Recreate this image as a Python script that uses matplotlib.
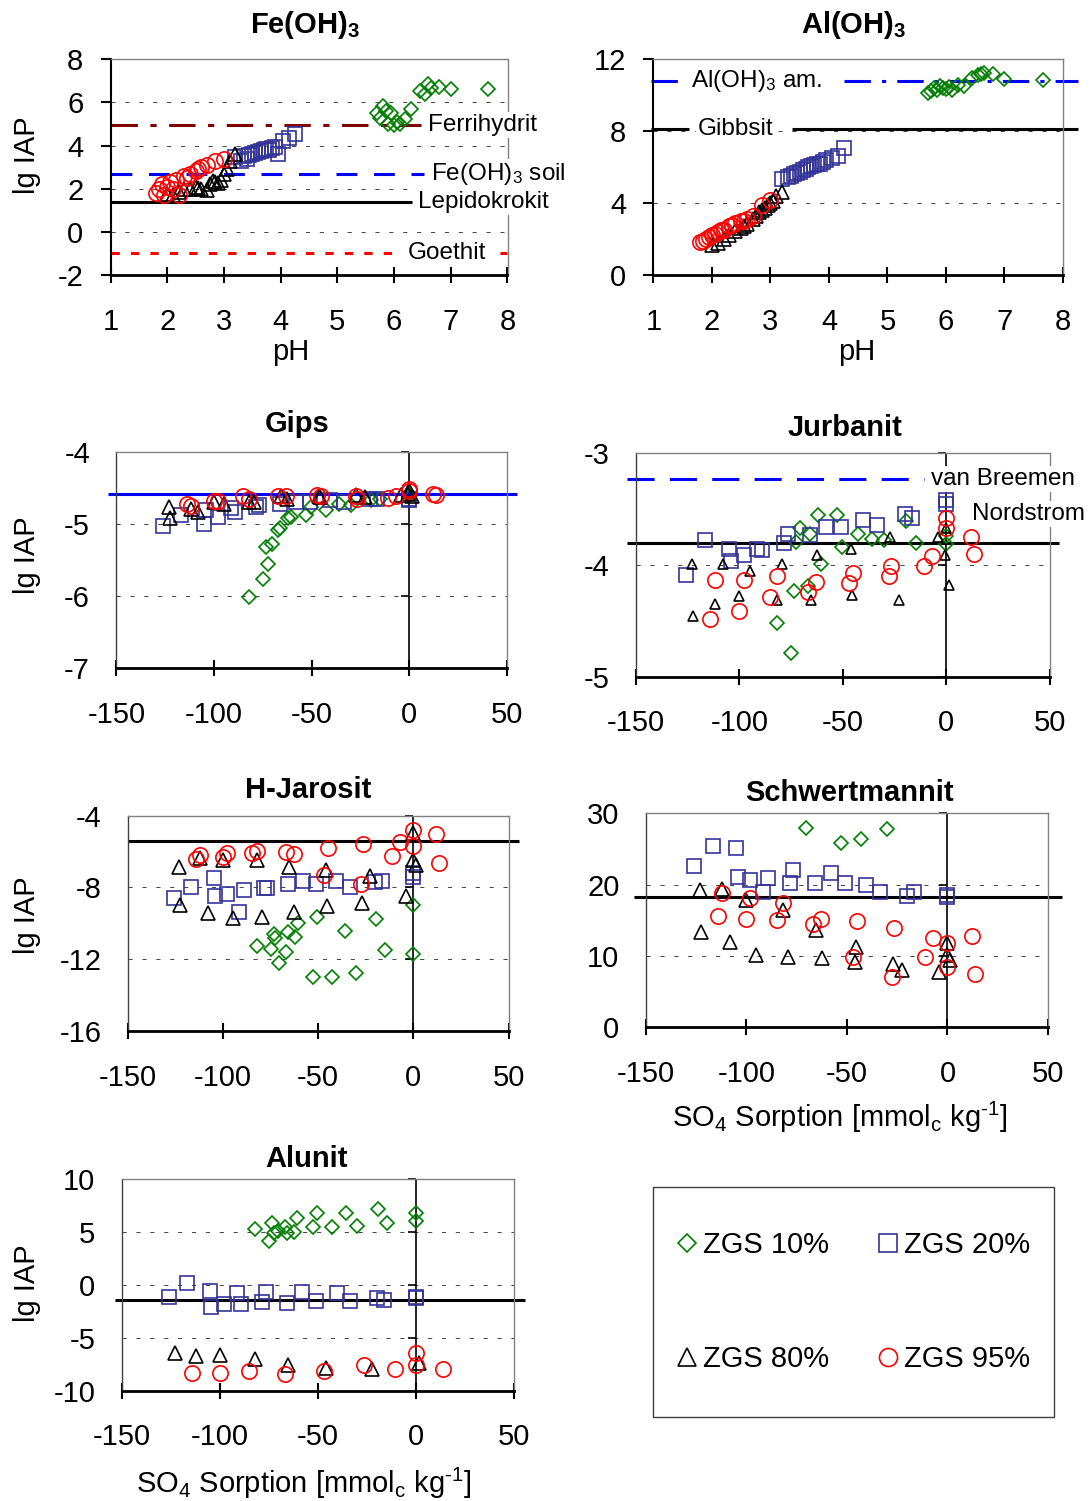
import numpy as np
import matplotlib
matplotlib.use('Agg')
import matplotlib.pyplot as plt
from matplotlib.lines import Line2D
from matplotlib.patches import Rectangle

nan = np.nan

# ---- ZGS 10% ----
so4_10 = [-82, -75, -73.5, -72.5, -70.5, -67, -66, -62, -60.8, -52.8, -50.5, -42.8, -35.8, -30, -19.6, -14.8, 0, 0]
ph_10 = [5.7, 5.75, 5.8, 5.85, 5.9, 5.95, 6.0, 6.05, 6.1, 6.2, 6.3, 6.45, 6.55, 6.6, 6.65, 6.8, 7.0, 7.65]
fe_10 = [5.5, 5.3, 5.85, 5.6, 5.0, 5.5, 4.95, 5.1, 5.0, 5.25, 5.7, 6.55, 6.4, 6.85, 6.65, 6.7, 6.6, 6.6]
al_10 = [10.1, 10.25, 10.4, 10.3, 10.5, 10.4, 10.35, 10.45, 10.3, 10.55, 10.5, 10.95, 11.1, 11.2, 11.25, 11.2, 10.9, 10.85]
gips_10 = [-6.01, -5.77, -5.32, -5.55, -5.28, -5.08, -5.06, -4.92, -4.90, -4.88, -4.76, -4.81, -4.72, -4.74, -4.67, -4.65, -4.62, -4.58]
jurb_10 = [-4.52, -4.79, -4.23, -3.79, -3.67, -4.19, -3.72, -3.55, -3.99, -3.55, -3.84, -3.72, -3.77, -3.78, -3.61, -3.80, -3.81, -3.74]
hjar_10 = [-11.26, -11.45, -10.59, -10.84, -12.19, -11.58, -10.46, -10.74, -10.0, -13.0, -9.63, -13.0, -10.41, -12.75, -9.78, -11.49, -8.98, -11.71]
schw_10 = [nan, nan, nan, nan, 28.0, nan, nan, nan, nan, 25.9, nan, 26.4, nan, 27.8, nan, nan, nan, nan]
alun_10 = [5.27, 4.16, 5.84, 4.89, 5.14, 5.46, 4.95, 5.05, 6.31, 5.46, 6.78, 5.46, 6.78, 5.58, 7.16, 5.84, 6.78, 6.09]

# ---- ZGS 20% ----
so4_20 = [-126, -116.7, -105, -104.3, -98, -91.5, -89, -78.4, -76.7, -66, -58, -51, -40.5, -33.5, -20, -16.5, 0, 0]
ph_20 = [3.2, 3.3, 3.35, 3.4, 3.45, 3.5, 3.55, 3.6, 3.65, 3.7, 3.75, 3.8, 3.85, 3.9, 3.95, 4.05, 4.15, 4.25]
fe_20 = [3.45, 3.3, 3.5, 3.4, 3.55, 3.6, 3.65, 3.7, 3.75, 3.8, 3.85, 3.8, 3.9, 3.95, 3.6, 4.2, 4.35, 4.55]
al_20 = [5.35, 5.45, 5.5, 5.6, 5.7, 5.75, 5.85, 5.9, 6.0, 6.05, 6.1, 6.15, 6.2, 6.3, 6.4, 6.5, 6.6, 7.05]
gips_20 = [-5.03, -4.88, -5.0, -4.81, -4.9, -4.78, -4.83, -4.76, -4.74, -4.72, -4.69, -4.69, -4.67, -4.69, -4.65, -4.65, -4.66, -4.67]
jurb_20 = [-4.09, -3.78, -3.86, -3.96, -3.91, -3.86, -3.87, -3.80, -3.72, -3.73, -3.66, -3.66, -3.60, -3.64, -3.54, -3.58, -3.42, -3.45]
hjar_20 = [-8.61, -7.96, -7.49, -8.48, -8.37, -9.35, -8.14, -8.05, -8.05, -7.81, -7.62, -7.81, -7.62, -7.96, -7.68, -7.62, -7.21, -7.40]
schw_20 = [22.6, 25.4, 25.1, 21.1, 20.65, 18.9, 20.9, 20.2, 22.0, 20.2, 21.6, 20.2, 19.95, 18.9, 18.4, 18.9, 18.55, 18.3]
alun_20 = [-1.10, 0.22, -0.54, -2.05, -1.83, -0.73, -1.83, -1.58, -0.63, -1.67, -0.69, -1.48, -0.79, -1.51, -1.26, -1.42, -1.26, -1.10]

# ---- ZGS 80% ----
so4_80 = [-123, -122.5, -112, -108, -100, -95, -82, -79.5, -65.5, -62.5, -46, -45.5, -27, -22.7, -4, -0.4, 0, 1.5]
ph_80 = [2.0, 2.1, 2.2, 2.3, 2.4, 2.5, 2.55, 2.6, 2.7, 2.75, 2.8, 2.85, 2.9, 2.95, 3.0, 3.05, 3.1, 3.2]
fe_80 = [1.75, 1.7, 1.85, 2.0, 2.0, 2.1, 2.05, 2.0, 1.95, 2.2, 2.35, 2.3, 2.25, 2.4, 2.7, 2.9, 3.3, 3.6]
al_80 = [1.65, 1.8, 2.0, 2.2, 2.45, 2.6, 2.7, 2.85, 3.1, 3.3, 3.5, 3.6, 3.7, 3.9, 4.0, 4.1, 4.4, 4.6]
gips_80 = [-4.76, -4.92, -4.80, -4.83, -4.69, -4.72, -4.69, -4.69, -4.62, -4.65, -4.62, -4.63, -4.60, -4.63, -4.60, -4.58, -4.53, -4.62]
jurb_80 = [-3.99, -4.46, -4.35, -3.99, -4.28, -4.05, -4.31, -3.99, -4.31, -3.91, -3.86, -4.27, -3.75, -4.31, -3.75, -3.91, -3.67, -4.18]
hjar_80 = [-6.84, -8.98, -6.38, -9.44, -6.47, -9.72, -6.47, -9.63, -6.84, -9.35, -7.03, -9.03, -8.89, -7.36, -8.48, -4.98, -6.47, -6.75]
schw_80 = [19.2, 13.3, 19.35, 11.9, 17.85, 10.1, 16.45, 9.9, 13.7, 9.7, 9.2, 11.3, 8.9, 8.0, 7.7, 10.1, 11.8, 9.4]
alun_80 = [-6.47, nan, -6.72, nan, -6.62, nan, -7.04, nan, -7.57, nan, -7.82, nan, nan, -7.98, nan, nan, nan, -7.35]

# ---- ZGS 95% ----
so4_95 = [-114, -112, -100, -98, -85, -82, -67, -63, -47, -45, -27.5, -26.5, -11, -7, 0, 0, 12, 13.5]
ph_95 = [1.8, 1.85, 1.9, 1.95, 2.0, 2.05, 2.1, 2.15, 2.2, 2.3, 2.35, 2.4, 2.5, 2.55, 2.6, 2.7, 2.85, 3.0]
fe_95 = [1.8, 2.0, 2.2, 1.7, 2.1, 2.3, 2.0, 2.4, 1.7, 2.6, 2.5, 2.7, 2.8, 2.9, 3.0, 3.1, 3.3, 3.4]
al_95 = [1.85, 1.9, 2.0, 2.1, 2.2, 2.3, 2.4, 2.5, 2.5, 2.7, 2.8, 2.9, 3.0, 3.0, 3.1, 3.3, 3.9, 4.2]
gips_95 = [-4.72, -4.75, -4.68, -4.68, -4.62, -4.65, -4.62, -4.62, -4.60, -4.62, -4.62, -4.65, -4.64, -4.61, -4.54, -4.52, -4.59, -4.60]
jurb_95 = [-4.48, -4.13, -4.41, -4.13, -4.29, -4.10, -4.24, -4.15, -4.16, -4.07, -4.10, -4.01, -4.01, -3.92, -3.67, -3.58, -3.75, -3.90]
hjar_95 = [-6.43, -6.19, -6.32, -6.06, -6.10, -5.97, -6.01, -6.14, -7.31, -5.78, -7.83, -5.58, -6.25, -5.45, -5.69, -4.80, -5.02, -6.66]
schw_95 = [15.65, 18.88, 15.19, 18.13, 15.05, 17.38, 14.44, 15.19, 9.81, 14.95, 7.0, 13.88, 9.81, 12.48, 8.5, 11.77, 12.8, 7.43]
alun_95 = [-8.36, nan, -8.36, nan, -8.14, nan, -8.45, nan, -8.14, nan, nan, -7.57, -7.98, nan, -6.47, -7.57, nan, -7.98]

# reference lg K values
ferrihydrit_lg = 4.95
fe_soil_lg = 2.7
lepidokrokit_lg = 1.4
goethit_lg = -1.0
al_am_lg = 10.8
gibbsit_lg = 8.1
gips_lg = -4.58
breemen_lg = -3.23
nordstrom_lg = -3.8
hjar_lg = -5.4
schw_lg = 18.2
alun_lg = -1.45

plt.rcParams['font.family'] = ['Liberation Sans', 'DejaVu Sans']
plt.rcParams['axes.unicode_minus'] = False
plt.rcParams['mathtext.fontset'] = 'custom'
plt.rcParams['mathtext.rm'] = 'Liberation Sans'
plt.rcParams['mathtext.bf'] = 'Liberation Sans:bold'
plt.rcParams['mathtext.default'] = 'rm'
plt.rcParams['lines.scale_dashes'] = False

W, H = 1090, 1501
fig = plt.figure(figsize=(W / 100, H / 100), dpi=100)


def add_ax(x0, y0, x1, y1):
    return fig.add_axes([x0 / W, 1 - y1 / H, (x1 - x0) / W, (y1 - y0) / H])


def ftext(x, y, s, **kw):
    fig.text(x / W, 1 - y / H, s, **kw)


STY = {
    '10': ('D', '#008000', 7.5),
    '20': ('s', '#333399', 10.5),
    '80': ('^', 'black', 10),
    '95': ('o', '#ff0000', 11),
}


def pts(ax, x, y, key, ms=None):
    m, c, s = STY[key]
    ax.plot(x, y, ls='none', marker=m, mfc='none', mec=c, ms=ms or s, mew=1.2,
            zorder=3, clip_on=False)


def style(ax, xlim, xticks, ylim, yticks, zero_axis):
    ax.set_xlim(xlim)
    ax.set_ylim(ylim)
    ax.set_xticks(xticks)
    ax.set_yticks(yticks)
    ax.tick_params(axis='x', direction='inout', length=12, width=1.5, pad=17.5, labelsize=21)
    for s in ['top', 'right']:
        ax.spines[s].set_color('#808080')
        ax.spines[s].set_linewidth(1)
    ax.spines['bottom'].set_linewidth(2)
    ax.yaxis.grid(True, color='#444444', lw=0.7, ls=(0, (3, 7)))
    ax.set_axisbelow(True)
    if zero_axis:
        ax.spines['left'].set_color('#404040')
        ax.spines['left'].set_linewidth(1)
        ax.tick_params(axis='y', length=0, pad=19, labelsize=21)
        ax.axvline(0, color='black', lw=1.2, zorder=2)
        ax.plot(np.zeros(len(yticks)), yticks, ls='none', marker=0, ms=6, mew=1.2,
                color='black', clip_on=False, zorder=2)
    else:
        ax.spines['left'].set_linewidth(1.5)
        ax.tick_params(axis='y', direction='out', length=7, width=1.5, pad=12.5, labelsize=21)


def ref_line(ax, y, segs, color, ls='-'):
    for x0, x1 in segs:
        ax.plot([x0, x1], [y, y], color=color, ls=ls, lw=2.2, zorder=2, clip_on=False,
                solid_capstyle='butt', dash_capstyle='butt')


def ref_label(ax, x, y, s):
    ax.text(x, y, s, fontsize=17.5, ha='left', va='center', zorder=6,
            bbox=dict(boxstyle='square,pad=0.08', fc='white', ec='none'))


sorp_ticks = [-150, -100, -50, 0, 50]

# ---------- Fe(OH)3 ----------
ax = add_ax(110.5, 59.3, 507.5, 275)
style(ax, (1, 8), range(1, 9), (-2, 8), [-2, 0, 2, 4, 6, 8], False)
ref_line(ax, ferrihydrit_lg, [(1, 6.47)], '#800000', (0, (19, 9, 4.5, 9)))
ref_line(ax, fe_soil_lg, [(1, 6.53)], '#0000ff', (0, (15, 12)))
ref_line(ax, lepidokrokit_lg, [(1, 6.32)], 'black')
ref_line(ax, goethit_lg, [(1, 6.0), (7.87, 8)], '#ff0000', (0, (6, 8)))
ref_label(ax, 6.6, ferrihydrit_lg, 'Ferrihydrit')
ref_label(ax, 6.65, fe_soil_lg, 'Fe(OH)$_3$ soil')
ref_label(ax, 6.42, lepidokrokit_lg, 'Lepidokrokit')
ref_label(ax, 6.25, goethit_lg, 'Goethit')
pts(ax, ph_10, fe_10, '10')
pts(ax, ph_20, fe_20, '20', 10.5)
pts(ax, ph_80, fe_80, '80', 9.5)
pts(ax, ph_95, fe_95, '95', 11)

# ---------- Al(OH)3 ----------
ax = add_ax(653.4, 59.3, 1063, 275)
style(ax, (1, 8), range(1, 9), (0, 12), [0, 4, 8, 12], False)
ref_line(ax, al_am_lg, [(0.96, 1.44), (4.26, 8.25)], '#0000ff', (0, (19, 8, 3, 8)))
ref_line(ax, gibbsit_lg, [(0.96, 1.61), (3.37, 8.25)], 'black')
ref_label(ax, 1.64, al_am_lg, 'Al(OH)$_3$ am.')
ref_label(ax, 1.76, gibbsit_lg, 'Gibbsit')
pts(ax, ph_10, al_10, '10')
pts(ax, ph_20, al_20, '20', 10.5)
pts(ax, ph_80, al_80, '80', 9.5)
pts(ax, ph_95, al_95, '95', 11)

# ---------- Gips ----------
ax = add_ax(116.4, 451.7, 506.8, 668.3)
style(ax, (-150, 50), sorp_ticks, (-7, -4), [-7, -6, -5, -4], True)
ref_line(ax, gips_lg, [(-154.1, 55.2)], '#0000ff')
pts(ax, so4_10, gips_10, '10')
pts(ax, so4_20, gips_20, '20')
pts(ax, so4_80, gips_80, '80')
pts(ax, so4_95, gips_95, '95')

# ---------- Jurbanit ----------
ax = add_ax(636, 453.3, 1049.7, 676.7)
style(ax, (-150, 50), sorp_ticks, (-5, -3), [-5, -4, -3], True)
ref_line(ax, breemen_lg, [(-154.4, -10.8)], '#0000ff', (0, (19.5, 11)))
ref_line(ax, nordstrom_lg, [(-154.4, 54.5)], 'black')
ref_label(ax, -7.4, breemen_lg, 'van Breemen')
ref_label(ax, 12.4, -3.54, 'Nordstrom')
pts(ax, so4_10, jurb_10, '10')
pts(ax, so4_20, jurb_20, '20')
pts(ax, so4_80, jurb_80, '80', 7.5)
pts(ax, so4_95, jurb_95, '95')

# ---------- H-Jarosit ----------
ax = add_ax(128, 815.7, 508.5, 1031)
style(ax, (-150, 50), sorp_ticks, (-16, -4), [-16, -12, -8, -4], True)
ref_line(ax, hjar_lg, [(-150, 55.3)], 'black')
pts(ax, so4_10, hjar_10, '10')
pts(ax, so4_20, hjar_20, '20')
pts(ax, so4_80, hjar_80, '80')
pts(ax, so4_95, hjar_95, '95')

# ---------- Schwertmannit ----------
ax = add_ax(645.8, 813.3, 1048, 1027.3)
style(ax, (-150, 50), sorp_ticks, (0, 30), [0, 10, 20, 30], True)
ref_line(ax, schw_lg, [(-156.1, 57)], 'black')
pts(ax, so4_10, schw_10, '10')
pts(ax, so4_20, schw_20, '20')
pts(ax, so4_80, schw_80, '80')
pts(ax, so4_95, schw_95, '95')

# ---------- Alunit ----------
ax = add_ax(121.7, 1179.3, 514.4, 1390.7)
style(ax, (-150, 50), sorp_ticks, (-10, 10), [-10, -5, 0, 5, 10], True)
ref_line(ax, alun_lg, [(-153.6, 55.3)], 'black')
pts(ax, so4_10, alun_10, '10')
pts(ax, so4_20, alun_20, '20')
pts(ax, so4_80, alun_80, '80')
pts(ax, so4_95, alun_95, '95')

# ---------- titles and labels ----------
tkw = dict(fontsize=21, fontweight='bold', ha='center', va='center')
ftext(305, 25, r'Fe(OH)$_\mathbf{3}$', **tkw)
ftext(854, 25, r'Al(OH)$_\mathbf{3}$', **tkw)
ftext(297, 424, 'Gips', **tkw)
ftext(845, 428, 'Jurbanit', **tkw)
ftext(308, 790, 'H-Jarosit', **tkw)
ftext(849, 793, 'Schwertmannit', **tkw)
ftext(307, 1159, 'Alunit', **tkw)

lkw = dict(fontsize=21, ha='center', va='center')
for yc in [155, 555, 915, 1283]:
    ftext(27, yc, 'lg IAP', rotation=90, **lkw)
ftext(291, 352, 'pH', **lkw)
ftext(857, 352, 'pH', **lkw)
so4_label = 'SO$_4$ Sorption [mmol$_c$ kg$^{\u20101}$]'
ftext(840, 1117, so4_label, **lkw)
ftext(304, 1483, so4_label, **lkw)

# ---------- legend ----------
fig.patches.append(Rectangle((653 / W, 1 - 1417 / H), (1054 - 653) / W, (1417 - 1187) / H,
                             transform=fig.transFigure, fill=False, ec='#404040', lw=1))
handles = []
labels = []
for key, ms in [('10', 9.5), ('80', 13), ('20', 13), ('95', 13)]:
    m, c, _ = STY[key]
    handles.append(Line2D([], [], ls='none', marker=m, mfc='none', mec=c, ms=ms, mew=1.2))
    labels.append('ZGS %s%%' % key)
fig.legend(handles, labels, loc='center', bbox_to_anchor=(853 / W, 1 - 1302 / H), ncol=2,
           frameon=False, fontsize=21, handlelength=0.8, handletextpad=0.15,
           columnspacing=1.62, labelspacing=2.95)

fig.savefig('out.png', dpi=100)
